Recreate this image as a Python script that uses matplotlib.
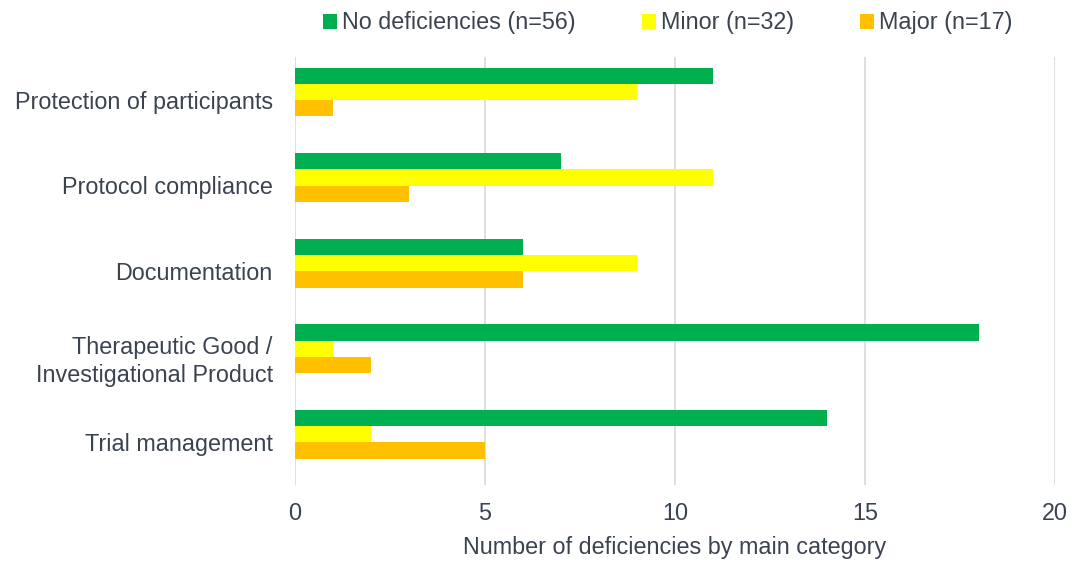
import matplotlib
matplotlib.use("Agg")
import matplotlib.pyplot as plt
import numpy as np

plt.rcParams['font.family'] = ['Liberation Sans', 'DejaVu Sans']

categories = ["Protection of participants", "Protocol compliance", "Documentation",
              "Therapeutic Good /\nInvestigational Product", "Trial management"]
series_names = ["No deficiencies (n=56)", "Minor (n=32)", "Major (n=17)"]
no_def = [11, 7, 6, 18, 14]
minor = [9, 11, 9, 1, 2]
major = [1, 3, 6, 2, 5]
colors = ["#00B050", "#FFFF00", "#FFC000"]
xticks = [0, 5, 10, 15, 20]
txt = "#3A434F"

fig = plt.figure(figsize=(10.75, 5.63), dpi=100)
ax = fig.add_axes([295/1075, 1-485/563, (1055-295)/1075, (485-57)/563])

y = np.arange(len(categories))
h = 0.19
shift = -0.092
for i, (vals, name, c) in enumerate(zip([no_def, minor, major], series_names, colors)):
    ax.barh(y + (i - 1) * h + shift, vals, height=h, color=c, label=name, zorder=3)

ax.set_ylim(len(categories) - 0.5, -0.5)
ax.set_yticks(y)
ax.set_yticklabels(categories, fontsize=16.8, color=txt, linespacing=1.25)
ax.set_xlim(0, 20)
ax.set_xticks(xticks)
ax.set_xticklabels([str(t) for t in xticks], fontsize=16.8, color=txt)
ax.tick_params(axis='x', length=0, pad=12.5)
ax.tick_params(axis='y', length=0, pad=16)
for s in ax.spines.values():
    s.set_visible(False)
ax.grid(axis='x', color="#D9D9D9", linewidth=1.2, zorder=0)
ax.set_xlabel("Number of deficiencies by main category", fontsize=16.8, color=txt, labelpad=8)

leg = fig.legend(loc='center', bbox_to_anchor=(668/1075, 1-23/563), ncol=3, frameon=False,
                 fontsize=16.8, handlelength=0.6, handleheight=0.6, handletextpad=0.2,
                 columnspacing=2.85, borderpad=0)
for t in leg.get_texts():
    t.set_color(txt)

fig.savefig("out.png", dpi=100)
